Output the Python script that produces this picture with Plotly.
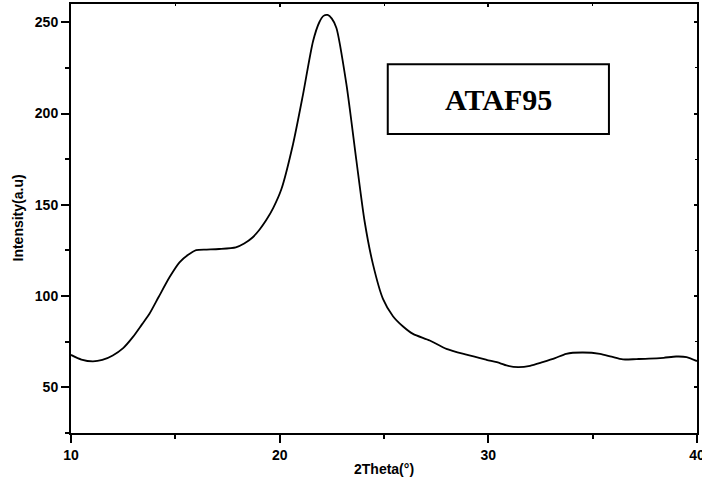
import plotly.graph_objects as go

two_theta = [10.0, 10.5, 11.05, 11.5, 12.0, 12.5, 12.96, 13.4, 13.76, 14.2, 14.72, 15.2, 15.6,
             16.0, 16.5, 17.1, 17.9, 18.3, 18.7, 19.04, 19.35, 19.7, 20.08, 20.64, 21.12, 21.6,
             21.9, 22.1, 22.3, 22.5, 22.72, 23.2, 23.68, 24.07, 24.47, 24.95, 25.43, 25.9, 26.39,
             27.19, 27.99, 28.95, 29.91, 30.55, 30.87, 31.43, 32.0, 32.6, 33.2, 33.73, 34.5,
             35.35, 35.9, 36.45, 37.1, 37.7, 38.4, 39.0, 39.5, 40.0]
intensity = [67.8, 65.2, 64.2, 65.0, 67.5, 71.5, 77.5, 84.5, 90.3, 99.5, 110.3, 118.5, 122.5,
             125.2, 125.5, 125.8, 126.7, 128.8, 132.1, 136.5, 141.5, 148.5, 158.5, 183.2, 210.5,
             239.6, 250.0, 253.5, 254.0, 252.0, 246.9, 216.0, 174.0, 141.0, 117.5, 98.5, 89.0, 83.5,
             79.3, 75.7, 71.1, 67.9, 65.1, 63.3, 62.0, 61.1, 61.8, 63.8, 66.0, 68.4, 69.1,
             68.4, 66.8, 65.3, 65.5, 65.7, 66.2, 66.9, 66.6, 64.4]

x_ticks = [10, 20, 30, 40]
y_ticks = [50, 100, 150, 200, 250]
x_range = [10, 40]
y_range = [25, 260]
sample_label = "ATAF95"
x_title = "2Theta(°)"
y_title = "Intensity(a.u)"

sans = "Liberation Sans, Arial, sans-serif"
serif = "Liberation Serif, Times New Roman, serif"

fig = go.Figure()
fig.add_trace(go.Scatter(x=two_theta, y=intensity, mode="lines",
                         line=dict(color="black", width=1.8, shape="spline", smoothing=0.7),
                         showlegend=False, hoverinfo="x+y"))
# invisible copy on mirrored axes so they are drawn
fig.add_trace(go.Scatter(x=two_theta, y=intensity, mode="lines", xaxis="x2", yaxis="y2",
                         line=dict(color="rgba(0,0,0,0)", width=0), showlegend=False,
                         hoverinfo="skip"))

tickfont = dict(family=sans, size=14, color="black", weight="bold")
titlefont = dict(family=sans, size=14, color="black", weight="bold")

fig.update_layout(
    width=702, height=484,
    margin=dict(l=71, r=5, t=4, b=51, autoexpand=False),
    paper_bgcolor="white", plot_bgcolor="white",
    xaxis=dict(range=x_range, tickvals=x_ticks, ticktext=[str(v) for v in x_ticks],
               automargin=False, ticklabeloverflow="allow",
               showgrid=False, zeroline=False, showline=True, linecolor="black", linewidth=2,
               ticks="outside", ticklen=8, tickwidth=2, tickcolor="black",
               minor=dict(ticks="outside", ticklen=4, tickwidth=1.5, tickcolor="black", dtick=5, tick0=10),
               tickfont=tickfont),
    yaxis=dict(range=y_range, tickvals=y_ticks, ticktext=[str(v) for v in y_ticks],
               automargin=False, ticklabeloverflow="allow",
               showgrid=False, zeroline=False, showline=True, linecolor="black", linewidth=2,
               ticks="outside", ticklen=8, tickwidth=2, tickcolor="black",
               minor=dict(ticks="outside", ticklen=4, tickwidth=1.5, tickcolor="black", dtick=25, tick0=0),
               tickfont=tickfont),
    xaxis2=dict(range=x_range, overlaying="x", side="top", anchor="y2", tickvals=x_ticks,
                automargin=False,
                showticklabels=False, showgrid=False, zeroline=False, showline=True,
                linecolor="black", linewidth=2, ticks="inside", ticklen=3, tickwidth=1.5,
                tickcolor="black",
                minor=dict(ticks="inside", ticklen=2, tickwidth=1, tickcolor="black", dtick=5, tick0=10)),
    yaxis2=dict(range=y_range, overlaying="y", side="right", anchor="x2", tickvals=y_ticks,
                automargin=False,
                showticklabels=False, showgrid=False, zeroline=False, showline=True,
                linecolor="black", linewidth=2, ticks="inside", ticklen=3, tickwidth=1.5,
                tickcolor="black",
                minor=dict(ticks="inside", ticklen=2, tickwidth=1, tickcolor="black", dtick=25, tick0=0)),
)

# axis titles
fig.add_annotation(x=0.5, y=0, xref="paper", yref="paper", yanchor="middle", yshift=-36,
                   text=x_title, showarrow=False, font=titlefont)
fig.add_annotation(x=0, y=0.5, xref="paper", yref="paper", xanchor="center", xshift=-54,
                   textangle=-90, text=y_title, showarrow=False, font=titlefont)

fig.add_shape(type="rect", xref="x", yref="y", x0=25.18, x1=35.78, y0=188.8, y1=227.0,
              line=dict(color="black", width=2), fillcolor="white", layer="above")
fig.add_annotation(x=30.48, y=207.9, xref="x", yref="y", text=sample_label, showarrow=False,
                   font=dict(family=serif, size=30, color="black", weight="bold"))

fig.write_html("out.html", config={"displayModeBar": False},
               post_script="document.body.style.margin='0px';document.body.style.overflow='hidden';")
